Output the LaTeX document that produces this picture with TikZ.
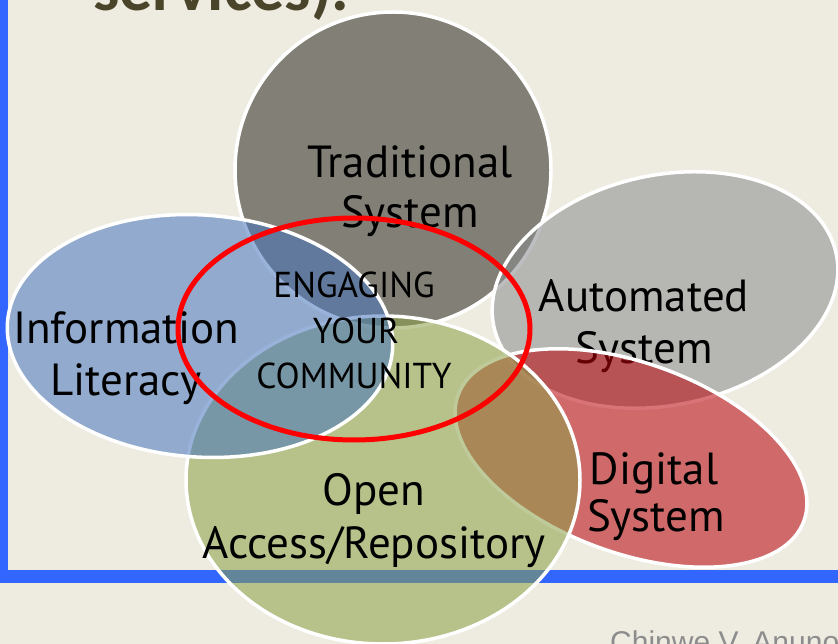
\documentclass[tikz,border=0pt]{standalone}
\usepackage{fontspec}
\setmainfont{PT Sans}
\newfontfamily\titlefont{Carlito}
\newfontfamily\footfont{Liberation Sans}
\definecolor{bg}{RGB}{238,236,225}
\definecolor{framec}{RGB}{51,102,255}
\definecolor{tradc}{RGB}{42,40,31}
\definecolor{autoc}{RGB}{136,138,140}
\definecolor{infoc}{RGB}{69,116,189}
\definecolor{openc}{RGB}{138,160,70}
\definecolor{digic}{RGB}{185,0,10}
\definecolor{titlec}{RGB}{74,69,42}
\definecolor{footc}{RGB}{140,140,140}
\begin{document}
\begin{tikzpicture}[x=1pt,y=-1pt,
  blob/.style={fill opacity=0.55, draw=white, draw opacity=1, line width=3.5pt},
  lbl/.style={font=\fontsize{45}{50}\selectfont, anchor=base, inner sep=0pt, text=black},
  eng/.style={font=\fontsize{36}{40}\selectfont, anchor=base, inner sep=0pt, text=black, xscale=0.98},
  ring/.style={draw=red, line width=5pt}]
\useasboundingbox (0,0) rectangle (838,644);
\clip (0,0) rectangle (838,644);
\fill[bg] (0,0) rectangle (838,644);
% frame
\fill[framec] (0,0) rectangle (8,583);
\fill[framec] (0,570) rectangle (838,583);
% title and footer
\node[anchor=base west, inner sep=0pt, font=\titlefont\bfseries\fontsize{66}{70}\selectfont, text=titlec] (title) at (93,11) {services).};
\node[anchor=base west, inner sep=0pt, font=\footfont\fontsize{30}{34}\selectfont, text=footc] (foot) at (610,652) {Chinwe V. Anuno};
% Traditional
\filldraw[blob, fill=tradc] (393,170) circle [radius=158pt];
\node[lbl] (trad1) at (410,178) {Traditional};
\node[lbl] (trad2) at (410,228) {System};
% Automated
\filldraw[blob, fill=autoc, rotate around={12:(665,290)}] (665,290) ellipse [x radius=175pt, y radius=115pt];
\node[lbl] (auto1) at (644,312) {Automated};
\node[lbl] (auto2) at (644,363) {System};
% Digital
\filldraw[blob, fill=digic, rotate around={-20:(631,458)}] (631,458) ellipse [x radius=184pt, y radius=95pt];
\node[lbl] (digi1) at (654,484) {Digital};
\node[lbl] (digi2) at (656,531) {System};
% Open Access
\filldraw[blob, fill=openc] (383,480) ellipse [x radius=197pt, y radius=164pt];
\node[lbl] (open1) at (374,505) {Open};
\node[lbl] (open2) at (374,558) {Access/Repository};
% Information Literacy
\filldraw[blob, fill=infoc, rotate around={-4:(200,336)}] (200,336) ellipse [x radius=193pt, y radius=121pt];
\node[lbl] (info1) at (126,343) {Information};
\node[lbl] (info2) at (126,395) {Literacy};
% red ring
\draw[ring] (354,329) ellipse [x radius=176pt, y radius=111pt];
\node[eng] (eng1) at (354,298) {ENGAGING};
\node[eng] (eng2) at (356,343) {YOUR};
\node[eng] (eng3) at (354,388) {COMMUNITY};
\end{tikzpicture}
\end{document}
